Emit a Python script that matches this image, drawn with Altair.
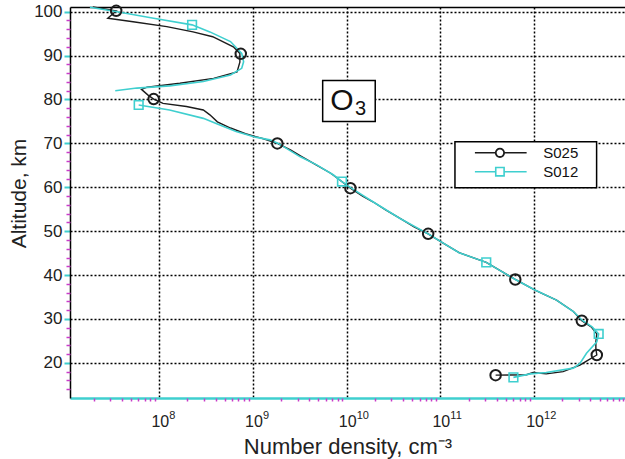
import altair as alt
import pandas as pd

# ---------------- data (altitude in km, log10 of number density in cm^-3) -------------
s025_alt = [101.1, 100.16, 98.5, 97.7, 96.6, 95.4, 94.3, 92.0, 90.5, 88.5, 86.3, 84.8, 83.7,
            82.8, 82.3, 81.0, 80.1, 79.1, 78.4, 77.6, 76.5, 74.9, 73.5, 72.2, 71.0, 70.0,
            68.5, 67.0, 65.3, 63.2, 61.6, 59.8, 58.0, 56.7, 54.8, 52.9, 51.0, 49.4, 47.3,
            45.1, 42.9, 41.0, 39.0, 36.6, 34.3, 31.7, 29.6, 28.2, 26.6, 24.8, 23.2, 21.8,
            20.4, 19.5, 18.0, 17.5, 17.8, 17.3, 17.2]
s025_logn = [7.29, 7.54, 7.45, 7.72, 8.08, 8.36, 8.57, 8.79, 8.86, 8.86, 8.83, 8.58, 8.22,
             7.87, 7.81, 7.88, 7.94, 8.04, 8.29, 8.47, 8.54, 8.62, 8.76, 8.92, 9.12, 9.26,
             9.40, 9.52, 9.66, 9.83, 9.93, 10.04, 10.17, 10.28, 10.42, 10.57, 10.72, 10.87, 11.03,
             11.20, 11.49, 11.64, 11.80, 12.01, 12.24, 12.42, 12.51, 12.61, 12.67, 12.66, 12.66, 12.67,
             12.56, 12.49, 12.31, 12.13, 11.99, 11.92, 11.59]
s025_mark_alt = [100.2, 90.4, 80.1, 70.0, 59.8, 49.4, 39.0, 29.6, 21.8, 17.2]
s025_mark_logn = [7.54, 8.87, 7.94, 9.26, 10.04, 10.87, 11.80, 12.51, 12.67, 11.59]

s012_alt = [101.0, 100.0, 98.5, 97.0, 95.4, 93.2, 90.5, 88.6, 87.1, 85.6, 84.1, 83.1, 82.6, 82.0,
            78.75, 77.6, 75.7, 74.4, 72.7, 71.5, 70.8, 70.0, 67.0, 65.1, 62.8, 61.3, 59.8, 56.7,
            52.9, 49.4, 45.1, 42.9, 39.0, 36.6, 34.3, 31.7, 29.6, 28.2, 26.6, 24.8, 22.2, 19.9,
            18.8, 17.8, 17.5, 16.7]
s012_logn = [7.26, 7.55, 7.94, 8.35, 8.54, 8.76, 8.88, 8.90, 8.88, 8.76, 8.47, 8.11, 7.76, 7.53,
             7.78, 8.11, 8.47, 8.62, 8.82, 9.01, 9.18, 9.27, 9.50, 9.68, 9.86, 9.95, 10.05, 10.28,
             10.57, 10.87, 11.20, 11.49, 11.80, 12.01, 12.24, 12.42, 12.52, 12.62, 12.69, 12.67, 12.56, 12.49,
             12.42, 12.13, 11.96, 11.78]
s012_segment = [1] * 14 + [2] * 32
s012_mark_alt = [97.0, 78.75, 61.3, 42.9, 26.6, 16.7]
s012_mark_logn = [8.35, 7.78, 9.95, 11.49, 12.69, 11.78]

series_names = ["S025", "S012"]
x_tick_exponents = [8, 9, 10, 11, 12]
y_tick_values = [20, 30, 40, 50, 60, 70, 80, 90, 100]

# ---------------- tables --------------------------------------------------------------
lines = pd.concat([
    pd.DataFrame({"alt": s025_alt, "n": [10 ** v for v in s025_logn], "series": "S025",
                  "seg": 1, "idx": range(len(s025_alt))}),
    pd.DataFrame({"alt": s012_alt, "n": [10 ** v for v in s012_logn], "series": "S012",
                  "seg": s012_segment, "idx": range(len(s012_alt))}),
], ignore_index=True)
m025 = pd.DataFrame({"alt": s025_mark_alt, "n": [10 ** v for v in s025_mark_logn]})
m012 = pd.DataFrame({"alt": s012_mark_alt, "n": [10 ** v for v in s012_mark_logn]})

BLACK = "#1c1c1c"
CYAN = "#3fcfcf"
MAGENTA = "#c83cc8"
FONT = "Liberation Sans"

XMIN, XMAX = 10 ** 7.047, 10 ** 12.971
YMIN, YMAX = 12.0, 101.07
xs = alt.Scale(type="log", domain=[XMIN, XMAX], nice=False)
ys = alt.Scale(domain=[YMIN, YMAX], nice=False, zero=False)

tick_labels = pd.DataFrame({"n": [10 ** e for e in x_tick_exponents],
                            "base": ["10"] * len(x_tick_exponents),
                            "exp": [str(e) for e in x_tick_exponents],
                            "alt": [YMIN] * len(x_tick_exponents)})

main_x_axis = alt.Axis(orient="bottom", values=[10 ** e for e in x_tick_exponents], labels=False,
                       grid=True, gridColor="black", gridDash=[2, 2], gridWidth=1.5,
                       ticks=False, domainColor=CYAN, domainWidth=2.5,
                       title="Number density, cm⁻³", titleFont=FONT, titleFontSize=22,
                       titleFontWeight="normal", titleColor="#222", titleY=55,
                       titleBaseline="alphabetic")
main_y_axis = alt.Axis(orient="left", values=y_tick_values, grid=True, gridColor="black",
                       gridDash=[2, 2], gridWidth=1.5, tickColor=CYAN, tickSize=6, tickWidth=2,
                       domainColor="black", domainWidth=1.5,
                       labelFont=FONT, labelFontSize=17, labelColor="#222", labelPadding=2,
                       labelFlush=False,
                       title="Altitude, km", titleFont=FONT, titleFontSize=21,
                       titleFontWeight="normal", titleColor="#222", titleX=-45, titleY=186,
                       titleBaseline="alphabetic")

minor_x_vals = [k * 10 ** d for d in range(7, 13) for k in range(2, 10) if XMIN < k * 10 ** d < XMAX]
minor_y_vals = [v for v in range(14, 101, 2) if v % 10 != 0]
minor_x_axis = alt.Axis(orient="bottom", values=minor_x_vals, labels=False, domain=False,
                        grid=False, tickColor=MAGENTA, tickSize=3, tickWidth=1.5, title=None)
minor_y_axis = alt.Axis(orient="left", values=minor_y_vals, labels=False, domain=False,
                        grid=False, tickColor=MAGENTA, tickSize=4, tickWidth=1.5, title=None)
top_axis = alt.Axis(orient="top", labels=False, ticks=False, grid=False, domainColor="black",
                    domainWidth=1.5, title=None)

color = alt.Color("series:N", scale=alt.Scale(domain=series_names, range=[BLACK, CYAN]),
                  legend=None)

line_025 = alt.Chart(lines[lines.series == "S025"]).mark_line(strokeWidth=1.4).encode(
    x=alt.X("n:Q", scale=xs, axis=main_x_axis),
    y=alt.Y("alt:Q", scale=ys, axis=main_y_axis),
    color=color, detail="seg:N", order="idx:Q")
line_012 = alt.Chart(lines[lines.series == "S012"]).mark_line(strokeWidth=1.6).encode(
    x=alt.X("n:Q", scale=xs, axis=minor_x_axis),
    y=alt.Y("alt:Q", scale=ys, axis=minor_y_axis),
    color=color, detail="seg:N", order="idx:Q")
pts_025 = alt.Chart(m025).mark_point(shape="circle", filled=False, size=110, strokeWidth=2,
                                     color=BLACK, opacity=1).encode(
    x=alt.X("n:Q", scale=xs, axis=top_axis),
    y=alt.Y("alt:Q", scale=ys, axis=None))
pts_012 = alt.Chart(m012).mark_point(shape="square", filled=False, size=75, strokeWidth=1.6,
                                     color=CYAN, opacity=1).encode(
    x=alt.X("n:Q", scale=xs, axis=None),
    y=alt.Y("alt:Q", scale=ys, axis=None))

# x tick labels: "10" with a raised exponent
tick_base = alt.Chart(tick_labels).mark_text(
    font=FONT, fontSize=16, align="center", baseline="alphabetic", dy=29, dx=1,
    color="#222").encode(
    x=alt.X("n:Q", scale=xs, axis=None), y=alt.Y("alt:Q", scale=ys, axis=None), text="base:N")
tick_exp = alt.Chart(tick_labels).mark_text(
    font=FONT, fontSize=11, align="left", baseline="alphabetic", dy=21, dx=10,
    color="#222").encode(
    x=alt.X("n:Q", scale=xs, axis=None), y=alt.Y("alt:Q", scale=ys, axis=None), text="exp:N")

# ---------------- annotation: O3 label box --------------------------------------------
o3_box = pd.DataFrame({"x": [10 ** 9.744], "x2": [10 ** 10.305], "y": [84.3], "y2": [74.97]})
o3_box_layer = alt.Chart(o3_box).mark_rect(fill="white", stroke="black", strokeWidth=1.5).encode(
    x=alt.X("x:Q", scale=xs, axis=None), x2="x2:Q",
    y=alt.Y("y:Q", scale=ys, axis=None), y2="y2:Q")
o_text = alt.Chart(pd.DataFrame({"x": [10 ** 9.95], "y": [77.6], "t": ["O"]})).mark_text(
    font=FONT, fontSize=30, align="center", baseline="alphabetic", color="#111").encode(
    x=alt.X("x:Q", scale=xs, axis=None), y=alt.Y("y:Q", scale=ys, axis=None), text="t:N")
sub_text = alt.Chart(pd.DataFrame({"x": [10 ** 10.09], "y": [76.5], "t": ["3"]})).mark_text(
    font=FONT, fontSize=20, align="left", baseline="alphabetic", color="#111").encode(
    x=alt.X("x:Q", scale=xs, axis=None), y=alt.Y("y:Q", scale=ys, axis=None), text="t:N")

# ---------------- annotation: legend ----------------------------------------------------
leg_box = pd.DataFrame({"x": [10 ** 11.156], "x2": [10 ** 12.668], "y": [70.35], "y2": [59.89]})
leg_rows = pd.DataFrame({"series": series_names, "y": [67.85, 63.56],
                         "x1": [10 ** 11.369] * 2, "x2": [10 ** 11.921] * 2,
                         "xm": [10 ** 11.636] * 2, "xt": [10 ** 12.098] * 2})
leg_box_layer = alt.Chart(leg_box).mark_rect(fill="white", stroke="black", strokeWidth=1.5).encode(
    x=alt.X("x:Q", scale=xs, axis=None), x2="x2:Q",
    y=alt.Y("y:Q", scale=ys, axis=None), y2="y2:Q")
leg_rules = alt.Chart(leg_rows).mark_rule(strokeWidth=1.5).encode(
    x=alt.X("x1:Q", scale=xs, axis=None), x2="x2:Q",
    y=alt.Y("y:Q", scale=ys, axis=None), color=color)
leg_c = alt.Chart(leg_rows[leg_rows.series == "S025"]).mark_point(
    shape="circle", filled=True, fill="white", size=70, strokeWidth=1.8, stroke=BLACK,
    opacity=1).encode(x=alt.X("xm:Q", scale=xs, axis=None), y=alt.Y("y:Q", scale=ys, axis=None))
leg_s = alt.Chart(leg_rows[leg_rows.series == "S012"]).mark_point(
    shape="square", filled=True, fill="white", size=70, strokeWidth=1.6, stroke=CYAN,
    opacity=1).encode(x=alt.X("xm:Q", scale=xs, axis=None), y=alt.Y("y:Q", scale=ys, axis=None))
leg_text = alt.Chart(leg_rows).mark_text(font=FONT, fontSize=15, align="left",
                                         baseline="middle", color="#111").encode(
    x=alt.X("xt:Q", scale=xs, axis=None), y=alt.Y("y:Q", scale=ys, axis=None),
    text="series:N")

chart = alt.layer(
    line_025, line_012, pts_025, pts_012, tick_base, tick_exp,
    o3_box_layer, o_text, sub_text,
    leg_box_layer, leg_rules, leg_c, leg_s, leg_text,
).resolve_axis(x="independent", y="independent").properties(
    width=555, height=391,
    autosize=alt.AutoSizeParams(type="none"),
    padding={"left": 70, "top": 7, "right": 0, "bottom": 61},
    background="white",
).configure_view(stroke=None)

chart.save("out.html", embed_options={"renderer": "svg", "actions": False})
